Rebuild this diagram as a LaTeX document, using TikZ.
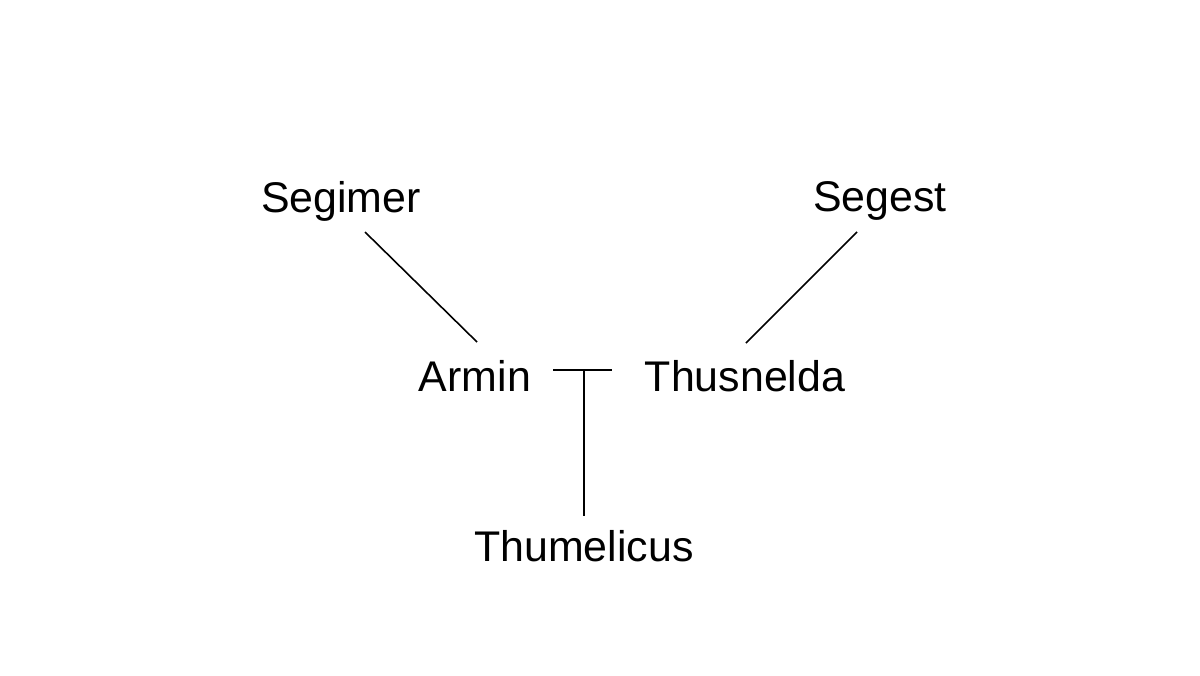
\documentclass[tikz,border=0pt]{standalone}
\usepackage{fontspec}
\setmainfont{Liberation Sans}
\begin{document}
\begin{tikzpicture}[x=0.01cm,y=-0.01cm,
  person/.style={font=\fontsize{12.2}{14}\selectfont, inner sep=0pt},
  link/.style={draw, line width=0.45pt}]
\useasboundingbox[fill=white] (0,0) rectangle (1200,675);
\node[person] (segimer) at (341,201) {Segimer};
\node[person] (segest) at (880,201) {Segest};
\node[person] (armin) at (475,376) {Armin};
\node[person] (thus) at (745,376) {Thusnelda};
\node[person] (thum) at (584,546) {Thumelicus};
\coordinate (s1) at (365,232); \coordinate (s2) at (477,342);
\coordinate (g1) at (857,232); \coordinate (g2) at (746,343);
\coordinate (m1) at (553,370); \coordinate (m2) at (612,370);
\coordinate (mc) at (584,370); \coordinate (c1) at (584,516);
\path[link] (s1) -- (s2);
\path[link] (g1) -- (g2);
\path[link] (m1) -- (m2);
\path[link] (mc) -- (c1);
\end{tikzpicture}
\end{document}
